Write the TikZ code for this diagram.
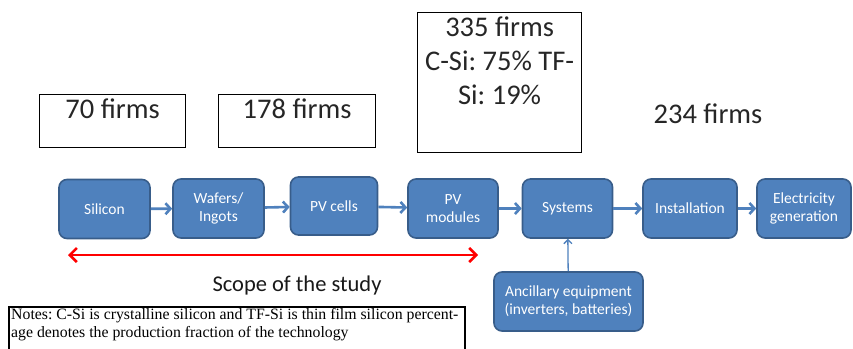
\documentclass[tikz,border=0pt]{standalone}
\usepackage{fontspec}
\setmainfont{Carlito}
\newfontfamily\notesfont{Liberation Serif}
\usetikzlibrary{arrows.meta,positioning}
\definecolor{stageblue}{RGB}{79,129,189}
\definecolor{stageedge}{RGB}{56,93,138}
\frenchspacing
\tikzset{
  stage/.style={draw=stageedge, line width=1.6pt, fill=stageblue, rounded corners=8pt,
    text=white, align=center, minimum height=59pt, font=\fontsize{15.5}{18}\selectfont},
  flow/.style={stageblue, line width=2.6pt, -{Straight Barb[length=5pt,width=11pt]}},
  firmbox/.style={draw=black, line width=1.2pt, anchor=north west},
  firmtext/.style={font=\fontsize{28.5}{34}\selectfont, text=black!85, align=center}
}
\begin{document}
\begin{tikzpicture}[x=1pt,y=-1pt]
\useasboundingbox (0,0) rectangle (853,348);
\clip (0,0) rectangle (853,348);

% value chain
\node[stage, minimum width=91pt] (silicon) at (104.5,209) {Silicon};
\node[stage, minimum width=91pt] (wafers) at (218.5,208.5) {Wafers/\\Ingots};
\node[stage, minimum width=87pt, minimum height=58pt] (cells) at (334,206) {PV cells};
\node[stage, minimum width=90pt] (modules) at (453,208.5) {PV\\modules};
\node[stage, minimum width=90pt] (systems) at (567.5,208.5) {Systems};
\node[stage, minimum width=94pt] (install) at (690,208.5) {Installation};
\node[stage, minimum width=94pt] (elec) at (804,208.5) {Electricity\\generation};
\node[stage, minimum width=149pt] (ancill) at (568.5,301.5) {Ancillary equipment\\(inverters, batteries)};

\draw[flow] (silicon) -- (wafers);
\draw[flow] (wafers) -- (cells);
\draw[flow] (cells) -- (modules);
\draw[flow] (modules) -- (systems);
\draw[flow] (systems) -- (install);
\draw[flow] (install) -- (elec);
\draw[stageblue, line width=1.3pt, -{Straight Barb[length=4pt,width=8pt]}] (ancill) -- (systems);

% firm counts
\node[firmbox, minimum width=146pt, minimum height=53pt] (f70) at (39,94) {};
\node[firmtext, anchor=north] (t70) at ([yshift=-1pt]f70.north) {70 firms};
\node[firmbox, minimum width=157pt, minimum height=53pt] (f178) at (218,94) {};
\node[firmtext, anchor=north] (t178) at ([yshift=-1pt]f178.north) {178 firms};
\node[firmbox, minimum width=164pt, minimum height=140pt] (f335) at (417,12) {};
\node[firmtext, anchor=north] (t335) at ([yshift=-1pt]f335.north) {335 firms\\C-Si: 75\% TF-\\Si: 19\%};
\node[firmtext] (t234) at (708,114) {234 firms};

% scope
\coordinate (scopeL) at (68,255);
\coordinate (scopeR) at (478,255);
\draw[red, line width=2.6pt, {Straight Barb[length=7pt,width=14pt]}-{Straight Barb[length=7pt,width=14pt]}] (scopeL) -- (scopeR);
\node[font=\fontsize{22.5}{27}\selectfont, text=black!90] (scope) at (297,285) {Scope of the study};

% notes
\draw[line width=2pt] (9,360) -- (9,307) -- (465,307) -- (465,360);
\node[anchor=north west, inner sep=0pt, align=left, font=\notesfont\fontsize{15.8}{18}\selectfont] (notes) at (11,308)
  {Notes: C-Si is crystalline silicon and TF-Si is thin film silicon percent-\\age denotes the production fraction of the technology};
\end{tikzpicture}
\end{document}
